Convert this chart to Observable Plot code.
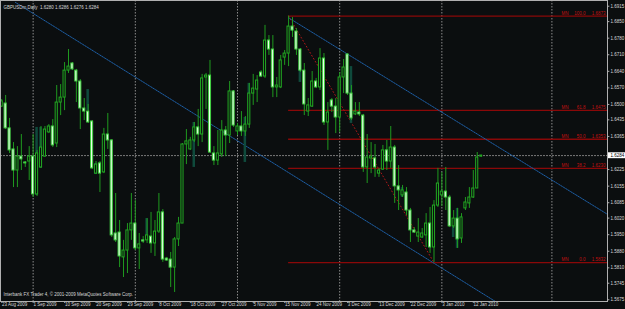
<!DOCTYPE html>
<html><head><meta charset="utf-8">
<script src="https://cdn.jsdelivr.net/npm/d3@7"></script>
<script src="https://cdn.jsdelivr.net/npm/@observablehq/plot@0.6"></script>
<style>
html,body{margin:0;padding:0;background:#0b0e0f;}
#chart svg{display:block}
</style></head><body><div id="chart"></div>
<script>
// GBPUSDm daily bars, 23 Aug 2009 .. 14 Jan 2010 (bar index = position)
const opens = [1.6491,1.6504,1.6399,1.6310,1.6221,1.6280,1.6255,1.6259,1.6280,1.6120,
1.6234,1.6280,1.6382,1.6407,1.6335,1.6508,1.6529,1.6643,1.6673,1.6643,
1.6597,1.6483,1.6470,1.6428,1.6208,1.6251,1.6213,1.6373,1.6348,1.5955,
1.5959,1.5854,1.5883,1.5968,1.5997,1.5892,1.5926,1.5926,1.5942,1.5913,
1.5963,1.6044,1.5849,1.5845,1.5811,1.5930,1.5997,1.6331,1.6310,1.6348,
1.6403,1.6373,1.6614,1.6622,1.6293,1.6263,1.6289,1.6390,1.6369,1.6555,
1.6386,1.6407,1.6386,1.6415,1.6546,1.6563,1.6635,1.6618,1.6770,1.6732,
1.6572,1.6572,1.6698,1.6715,1.6829,1.6808,1.6732,1.6643,1.6470,1.6491,
1.6597,1.6572,1.6694,1.6424,1.6517,1.6491,1.6445,1.6614,1.6711,1.6546,
1.6458,1.6466,1.6453,1.6234,1.6272,1.6272,1.6208,1.6225,1.6306,1.6259,
1.6318,1.6154,1.6116,1.6128,1.6052,1.5968,1.5942,1.5938,1.5947,1.5997,
1.5896,1.6073,1.6116,1.6132,1.6107,1.5985,1.6018,1.5934,1.6061,1.6082,
1.6107,1.6145,1.6280];
const highs = [1.6521,1.6538,1.6441,1.6339,1.6322,1.6373,1.6259,1.6322,1.6373,1.6306,
1.6407,1.6407,1.6415,1.6436,1.6580,1.6584,1.6677,1.6732,1.6677,1.6648,
1.6605,1.6525,1.6500,1.6432,1.6259,1.6259,1.6399,1.6462,1.6352,1.6124,
1.6010,1.5926,1.5997,1.6124,1.6094,1.5955,1.5942,1.6018,1.6044,1.6010,
1.6124,1.6056,1.5854,1.5875,1.5938,1.6023,1.6335,1.6394,1.6361,1.6424,
1.6479,1.6627,1.6631,1.6686,1.6322,1.6390,1.6432,1.6407,1.6597,1.6559,
1.6420,1.6470,1.6449,1.6589,1.6627,1.6622,1.6643,1.6834,1.6791,1.6791,
1.6614,1.6707,1.6728,1.6873,1.6867,1.6821,1.6736,1.6673,1.6525,1.6639,
1.6610,1.6736,1.6715,1.6508,1.6525,1.6525,1.6635,1.6690,1.6715,1.6580,
1.6508,1.6508,1.6458,1.6373,1.6339,1.6331,1.6230,1.6327,1.6348,1.6407,
1.6327,1.6242,1.6158,1.6149,1.6061,1.5980,1.6018,1.5976,1.6039,1.6065,
1.6094,1.6230,1.6213,1.6234,1.6116,1.6052,1.6061,1.6039,1.6107,1.6149,
1.6221,1.6297,1.6286];
const lows = [1.6487,1.6394,1.6293,1.6149,1.6149,1.6221,1.6234,1.6179,1.6107,1.6111,
1.6230,1.6276,1.6377,1.6318,1.6318,1.6453,1.6474,1.6631,1.6643,1.6508,
1.6394,1.6432,1.6420,1.6225,1.6204,1.6128,1.6208,1.6310,1.5938,1.5917,
1.5811,1.5769,1.5786,1.5926,1.5883,1.5803,1.5913,1.5913,1.5871,1.5858,
1.5955,1.5833,1.5837,1.5727,1.5706,1.5900,1.5997,1.6246,1.6306,1.6339,
1.6322,1.6339,1.6479,1.6293,1.6242,1.6242,1.6276,1.6280,1.6335,1.6403,
1.6369,1.6365,1.6365,1.6399,1.6496,1.6508,1.6614,1.6610,1.6707,1.6529,
1.6529,1.6567,1.6665,1.6660,1.6783,1.6707,1.6635,1.6453,1.6449,1.6487,
1.6567,1.6559,1.6411,1.6306,1.6466,1.6377,1.6382,1.6546,1.6538,1.6432,
1.6453,1.6449,1.6213,1.6166,1.6208,1.6192,1.6192,1.6221,1.6221,1.6230,
1.6082,1.6052,1.6107,1.6031,1.5917,1.5955,1.5917,1.5934,1.5896,1.5871,
1.5832,1.6065,1.6069,1.6052,1.5980,1.5976,1.5892,1.5913,1.6052,1.6061,
1.6103,1.6145,1.6276];
const closes = [1.6513,1.6399,1.6306,1.6221,1.6280,1.6268,1.6251,1.6280,1.6120,1.6293,
1.6318,1.6394,1.6407,1.6327,1.6508,1.6529,1.6643,1.6660,1.6648,1.6597,
1.6483,1.6470,1.6424,1.6230,1.6246,1.6208,1.6373,1.6348,1.5947,1.5926,
1.5858,1.5883,1.5968,1.5997,1.5892,1.5909,1.5921,1.5947,1.5913,1.5963,
1.6044,1.5845,1.5841,1.5811,1.5930,1.5997,1.6331,1.6344,1.6348,1.6403,
1.6373,1.6610,1.6622,1.6297,1.6263,1.6293,1.6390,1.6369,1.6555,1.6411,
1.6407,1.6386,1.6415,1.6546,1.6567,1.6601,1.6618,1.6770,1.6732,1.6572,
1.6580,1.6686,1.6715,1.6829,1.6812,1.6732,1.6643,1.6500,1.6496,1.6597,
1.6572,1.6694,1.6424,1.6466,1.6491,1.6445,1.6614,1.6656,1.6546,1.6441,
1.6470,1.6458,1.6234,1.6276,1.6280,1.6234,1.6221,1.6306,1.6259,1.6318,
1.6154,1.6137,1.6137,1.6052,1.5968,1.5959,1.5959,1.5955,1.5997,1.5896,
1.6073,1.6166,1.6132,1.6107,1.5985,1.6018,1.5930,1.6023,1.6086,1.6107,
1.6145,1.6276,1.6284];

// secondary (dark teal) overlay bars
const tealIdx  = [9, 10, 22, 24, 37, 49, 62, 63, 76, 89, 102, 115, 116];
const tealHigh = [1.6403,1.6403,1.6563,1.6251,1.6018,1.6424,1.6445,1.6589,1.6665,1.6660,1.6149,1.6018,1.6061];
const tealLow  = [1.6116,1.6230,1.6474,1.6204,1.5938,1.6234,1.6255,1.6420,1.6593,1.6420,1.6107,1.5938,1.5892];

// time axis labels (every 8 bars)
const dateIdx = [0,8,16,24,32,40,48,56,64,72,80,88,96,104,112,120];
const dateLabels = ["23 Aug 2009","1 Sep 2009","10 Sep 2009","20 Sep 2009","29 Sep 2009","8 Oct 2009",
"18 Oct 2009","27 Oct 2009","5 Nov 2009","15 Nov 2009","24 Nov 2009","3 Dec 2009","13 Dec 2009",
"22 Dec 2009","3 Jan 2010","12 Jan 2010"];
const gridIdx = [8, 34, 60, 86, 112, 140];

// price axis labels (the one under the current-price box is hidden in the original)
const priceTicks = [1.6915,1.6850,1.6780,1.6710,1.6640,1.6570,1.6500,1.6435,1.6365,
1.6225,1.6155,1.6085,1.6020,1.5950,1.5880,1.5810,1.5745,1.5675];

// Fibonacci retracement (from 15 Nov high to 23 Dec low)
const fibLevels = ["100.0","61.8","50.0","38.2","0.0"];
const fibPrices = [1.6873,1.6475,1.6353,1.6230,1.5832];
const fibStartIdx = 73, fibEndIdx = 110;

// channel lines [bar index, price]
const chanUpper = [[73, 1.6866],[154.15, 1.6036]];
const chanLower = [[3.5, 1.6931],[125.6, 1.5668]];

const symbol = "GBPUSDm,Daily";
const copyright = "Interbank FX Trader 4, \u00a9 2001-2009 MetaQuotes Software Corp.";

const bars = opens.map((o, i) => ({i, o, h: highs[i], l: lows[i], c: closes[i]}));
const teal = tealIdx.map((i, k) => ({i, h: tealHigh[k], l: tealLow[k]}));
const last = bars[bars.length - 1];
const title = `${symbol}  ${last.o.toFixed(4)} ${last.h.toFixed(4)} ${last.l.toFixed(4)} ${last.c.toFixed(4)}`;
const xMax = 154.15, xMin = -0.305;
const txt = "#d9d9d9";

const chart = Plot.plot({
  width: 625, height: 309,
  marginLeft: 0, marginRight: 18, marginTop: 0, marginBottom: 8,
  style: {background: "#0b0e0f", color: txt, fontFamily: "'Liberation Sans', Arial, sans-serif", fontSize: "4.5px", overflow: "visible"},
  x: {type: "linear", domain: [xMin, xMax], axis: null},
  y: {type: "linear", domain: [1.56678, 1.69391], axis: null},
  marks: [
    Plot.ruleX(gridIdx, {stroke: "#8c8c8c", strokeDasharray: "1.5,1.5", strokeWidth: 1}),
    Plot.ruleY([last.c], {stroke: "#7a7a7a", strokeDasharray: "2,1", strokeWidth: 1}),
    Plot.ruleY(fibPrices, {x1: fibStartIdx, x2: xMax, stroke: "#8a0808", strokeWidth: 1.4}),
    Plot.line([[fibStartIdx, fibPrices[0]], [fibEndIdx, fibPrices[4]]], {x: d => d[0], y: d => d[1], stroke: "#b01818", strokeDasharray: "1,2.5", strokeWidth: 1}),
    Plot.line(chanUpper, {x: d => d[0], y: d => d[1], stroke: "#1d5fa6", strokeDasharray: "1,1", strokeWidth: 1}),
    Plot.line(chanLower, {x: d => d[0], y: d => d[1], stroke: "#1d5fa6", strokeDasharray: "1,1", strokeWidth: 1}),
    Plot.rect(teal, {x1: d => d.i - 0.32, x2: d => d.i + 0.32, y1: "l", y2: "h", fill: "#0f4a3c"}),
    Plot.ruleX(bars, {x: "i", y1: "l", y2: "h", stroke: "#1f9a1f", strokeWidth: 1}),
    Plot.rect(bars, {
      x1: d => d.i - 0.27, x2: d => d.i + 0.27,
      y1: d => Math.min(d.o, d.c), y2: d => Math.max(d.o, d.c),
      fill: d => d.c < d.o ? "#eaffea" : "#0b0e0f",
      stroke: d => d.c < d.o ? "#3fcf3f" : "#22a822", strokeWidth: 1
    }),
    // fib labels
    Plot.text(fibPrices, {y: d => d, frameAnchor: "right", text: () => "MN", dx: -46, dy: -3, textAnchor: "start", fill: "#c21010"}),
    Plot.text(fibPrices, {y: d => d, frameAnchor: "right", text: (d, i) => fibLevels[i], dx: -22, dy: -3, textAnchor: "end", fill: "#c21010"}),
    Plot.text(fibPrices, {y: d => d, frameAnchor: "right", text: d => d.toFixed(4), dx: -2, dy: -3, textAnchor: "end", fill: "#c21010"}),
    // price axis
    Plot.ruleY(priceTicks, {x1: xMax, x2: xMax + 0.6, stroke: "#b0b0b0"}),
    Plot.text(priceTicks, {x: xMax, y: d => d, text: d => d.toFixed(4), dx: 3, textAnchor: "start", fill: txt}),
    Plot.rect([last.c], {x1: xMax, x2: xMax + 4.7, y1: d => d - 0.0013, y2: d => d + 0.0012, fill: "#ffffff"}),
    Plot.text([last.c], {x: xMax, y: d => d, text: d => d.toFixed(4), dx: 3, textAnchor: "start", fill: "#000000"}),
    // time axis
    Plot.ruleX(dateIdx, {y1: 1.56678, y2: 1.5660, stroke: "#b0b0b0"}),
    Plot.text(dateIdx, {x: d => d, frameAnchor: "bottom", text: (d, i) => dateLabels[i], dy: 4, dx: 0.3, textAnchor: "start", fill: txt}),
    // header / footer
    Plot.text([title], {frameAnchor: "top-left", dx: 3, dy: 5, textAnchor: "start", fill: txt}),
    Plot.text([copyright], {frameAnchor: "bottom-left", dx: 3, dy: -5.5, textAnchor: "start", fill: txt}),
    Plot.frame({stroke: "#b0b0b0"})
  ]
});
document.getElementById("chart").append(chart);
</script>
</body></html>
